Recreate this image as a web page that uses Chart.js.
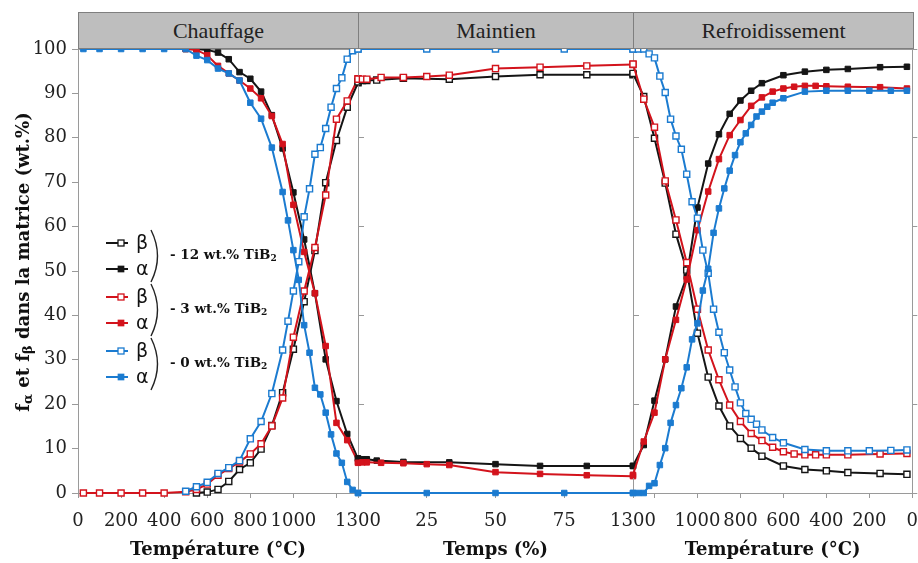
<!DOCTYPE html>
<html>
<head>
<meta charset="utf-8">
<script src="https://cdn.jsdelivr.net/npm/chart.js@4/dist/chart.umd.min.js"></script>
<style>
  body { margin: 0; background: #fff; }
  #wrap { position: relative; width: 918px; height: 563px; }
  #wrap canvas { position: absolute; left: 0; top: 0; }
  .band { position: absolute; top: 12px; height: 37px; background: #bebebe; border: 1px solid #7f7f7f;
          box-sizing: border-box; font: 22px "Liberation Serif", serif; color: #222; text-align: center; line-height: 35px; }
</style>
</head>
<body>
<div id="wrap">
  <canvas id="cA" width="918" height="563"></canvas>
  <canvas id="cB" width="918" height="563"></canvas>
  <canvas id="cC" width="918" height="563"></canvas>
</div>
<script>
// phase names and tick labels
const phaseNames = ['Chauffage', 'Maintien', 'Refroidissement'];
const heatTicks = [0, 200, 400, 600, 800, 1000, 1200, 1300];
const holdTicks = [0, 25, 50, 75, 100];
const coolTicks = [1300, 1200, 1000, 800, 600, 400, 200, 0];
const wtLabels = ['12', '3', '0'];

// --- chauffage (temperature, °C) ---
const heatT0a = [25, 100, 200, 300, 400, 500, 550, 600, 650, 700, 750, 800, 850, 900, 950, 975, 1000, 1025, 1050, 1075, 1100, 1125, 1150, 1175, 1200, 1225, 1250, 1275, 1300];
const heatA0 = [100, 100, 100, 100, 100, 100, 98.5, 97.5, 95.6, 94.5, 92.9, 87.9, 84.3, 77.8, 67.8, 61.4, 54.7, 48, 37.8, 31.6, 23.7, 22.2, 18.1, 13.2, 8.9, 6.8, 2.5, 0.7, 0];
const heatT0b = [500, 550, 600, 650, 700, 750, 800, 850, 900, 950, 975, 1000, 1025, 1050, 1075, 1100, 1125, 1150, 1175, 1200, 1225, 1250, 1275, 1300];
const heatB0 = [0.4, 1.4, 2.4, 4.4, 5.7, 7.3, 12.2, 16.1, 22.4, 32.2, 38.7, 45.5, 52.1, 62.2, 68.5, 76.3, 77.8, 82.1, 86.9, 91.1, 93.5, 97.7, 99.6, 100];

const heatT3a = [500, 550, 600, 650, 700, 750, 800, 850, 900, 950, 1000, 1050, 1100, 1150, 1200, 1250, 1300];
const heatA3 = [100, 99.8, 98.6, 96.2, 94.5, 92.9, 91.1, 88.9, 84.9, 78.6, 64.9, 54.3, 45, 33.1, 15.8, 11.9, 7.0];
const heatT3b = [25, 100, 200, 300, 400, 500, 550, 600, 650, 700, 750, 800, 850, 900, 950, 1000, 1050, 1100, 1150, 1200, 1250, 1300];
const heatB3 = [0, 0, 0, 0, 0, 0.3, 0.8, 2.0, 4.0, 5.5, 7.0, 8.8, 11.1, 15.1, 21.4, 35.1, 45.5, 55.3, 67.1, 84.2, 88.3, 93.3];

const heatT12a = [500, 550, 600, 650, 700, 750, 800, 850, 900, 950, 1000, 1050, 1100, 1150, 1200, 1250, 1300];
const heatA12 = [100, 100, 99.8, 99.2, 97.7, 94.8, 93.3, 90.4, 85.1, 77.6, 67.7, 57.1, 45, 30.1, 20.7, 13.3, 7.7];
const heatT12b = [550, 600, 650, 700, 750, 800, 850, 900, 950, 1000, 1050, 1100, 1150, 1200, 1250, 1300];
const heatB12 = [0, 0.2, 0.8, 2.6, 5.3, 6.8, 9.9, 15.2, 22.6, 32.4, 43.1, 54.6, 69.9, 79.4, 86.9, 92.4];

// --- maintien (temps, %) ---
const holdT0 = [0, 25, 50, 75, 100];
const holdA0 = [0, 0, 0, 0, 0];
const holdB0 = [100, 100, 100, 100, 100];
const holdT3 = [0, 1.6, 3.2, 8.4, 16.5, 25, 33.2, 50, 66.2, 83.2, 100];
const holdA3 = [6.8, 6.9, 6.9, 6.8, 6.7, 6.5, 6.3, 4.7, 4.3, 4.0, 3.8];
const holdB3 = [93.2, 93.2, 93.2, 93.6, 93.6, 93.8, 94.1, 95.6, 95.9, 96.2, 96.5];
const holdT12 = [0, 1.6, 3.2, 6.8, 16.5, 33.2, 50, 66.2, 83.2, 100];
const holdA12 = [7.8, 7.6, 7.6, 7.3, 7.0, 6.9, 6.5, 6.1, 6.1, 6.1];
const holdB12 = [92.6, 92.9, 92.9, 93.0, 93.4, 93.2, 93.8, 94.2, 94.2, 94.2];

// --- refroidissement (temperature, °C) ---
const coolT0a = [1300, 1275, 1250, 1225, 1200, 1175, 1150, 1125, 1100, 1075, 1050, 1025, 1000, 975, 950, 925, 900, 875, 850, 825, 800, 775, 750, 725, 700, 675, 650, 600, 500, 400, 300, 200, 100, 25];
const coolA0 = [0, 0, 0, 1.6, 2.2, 6.3, 10.1, 15.8, 19.8, 23.6, 28.3, 34.6, 38.2, 45.6, 50.5, 58.6, 64.1, 68.6, 72.6, 76.1, 79.0, 81.0, 82.9, 84.8, 85.9, 87.0, 87.9, 88.9, 90.4, 90.6, 90.6, 90.6, 90.6, 90.6];
const coolT0b = [1300, 1275, 1250, 1225, 1200, 1175, 1150, 1125, 1100, 1075, 1050, 1025, 1000, 975, 950, 925, 900, 875, 850, 825, 800, 775, 750, 725, 700, 650, 600, 500, 400, 300, 200, 100, 25];
const coolB0 = [100, 100, 100, 98.9, 98.0, 93.9, 90.2, 84.2, 80.4, 77.4, 71.8, 65.6, 61.9, 54.7, 49.5, 41.4, 36.2, 31.6, 27.7, 23.9, 20.3, 17.9, 16.6, 15.5, 14.2, 12.5, 11.3, 9.8, 9.5, 9.5, 9.5, 9.6, 9.7];

const coolT3 = [1300, 1250, 1200, 1150, 1100, 1050, 1000, 950, 900, 850, 800, 750, 700, 650, 600, 550, 500, 450, 400, 300, 150, 25];
const coolA3 = [4.1, 11.6, 18.1, 30.1, 39.0, 48.1, 59.2, 67.9, 75.2, 80.6, 84.0, 87.2, 89.1, 90.4, 91.1, 91.5, 91.7, 91.7, 91.6, 91.5, 91.4, 91.1];
const coolB3 = [96.6, 88.7, 82.4, 70.3, 61.5, 51.9, 41.4, 32.2, 25.5, 19.8, 16.1, 13.4, 11.8, 10.3, 9.3, 8.8, 8.6, 8.6, 8.6, 8.6, 8.8, 8.9];

const coolT12 = [1300, 1250, 1200, 1150, 1100, 1050, 1000, 950, 900, 850, 800, 750, 700, 600, 500, 400, 300, 150, 25];
const coolA12 = [6.1, 10.8, 20.8, 30.1, 42.0, 48.7, 64.3, 74.2, 80.8, 85.4, 88.4, 90.6, 92.3, 94.1, 94.9, 95.3, 95.5, 95.9, 96.0];
const coolB12 = [94.5, 89.3, 79.9, 69.8, 58.3, 50.2, 36.0, 26.1, 19.6, 15.1, 12.3, 10.1, 8.3, 6.1, 5.3, 5.0, 4.6, 4.4, 4.2];

const colK = '#151515', colR = '#d3131c', colB = '#1b7bd0';
const groupColors = [colK, colR, colB];

const W = 918;
const plotLeft = 78, cut1 = 358, cut2 = 633, plotRight = 913, plotTop = 49, xAxisH = 70;

// bands with phase names
const bandEdges = [plotLeft, cut1, cut2, plotRight];
phaseNames.forEach((name, i) => {
  const d = document.createElement('div');
  d.className = 'band';
  d.style.left = bandEdges[i] + 'px';
  d.style.width = (bandEdges[i + 1] - bandEdges[i] + 1) + 'px';
  d.textContent = name;
  document.getElementById('wrap').appendChild(d);
});

const pts = (xs, ys) => xs.map((x, i) => ({ x: x, y: ys[i] }));

function ds(xs, ys, color, open) {
  return {
    data: pts(xs, ys),
    borderColor: color,
    backgroundColor: color,
    borderWidth: 2,
    tension: 0,
    clip: false,
    pointStyle: 'rect',
    pointRadius: open ? 4.3 : 3.9,
    pointBorderWidth: open ? 1.4 : 1,
    pointBackgroundColor: open ? '#fff' : color,
    pointBorderColor: color
  };
}

const tickFont = { family: 'DejaVu Serif', size: 18 };
const titleFont = { family: 'DejaVu Serif', size: 18, weight: 'bold' };

const framePlugin = {
  id: 'frame',
  beforeDatasetsDraw(chart) {
    const { ctx, chartArea: a } = chart;
    ctx.save();
    ctx.strokeStyle = '#9a9a9a';
    ctx.lineWidth = 1;
    ctx.strokeRect(Math.round(a.left) + 0.5, Math.round(a.top) + 0.5, Math.round(a.right - a.left), Math.round(a.bottom - a.top));
    ctx.restore();
  }
};

function richText(ctx, parts, x, y, align) {
  let w = 0;
  parts.forEach(p => { ctx.font = p[1]; w += ctx.measureText(p[0]).width; });
  let cx = align === 'center' ? x - w / 2 : x;
  parts.forEach(p => {
    ctx.font = p[1];
    ctx.fillText(p[0], cx, y + (p[2] || 0));
    cx += ctx.measureText(p[0]).width;
  });
}

const decorPlugin = {
  id: 'decor',
  afterDatasetsDraw(chart) {
    const ctx = chart.ctx;
    const big = 'bold 18px "DejaVu Serif"', sub = 'bold 13px "DejaVu Serif"';
    // y axis title
    ctx.save();
    ctx.fillStyle = '#111';
    ctx.textBaseline = 'middle';
    ctx.translate(24, 262);
    ctx.rotate(-Math.PI / 2);
    richText(ctx, [['f', big], ['α', sub, 5], [' et f', big], ['β', sub, 5], [' dans la matrice (wt.%)', big]], 0, 0, 'center');
    ctx.restore();

    // legend
    const groupTop = [243, 297, 351];
    groupColors.forEach((c, g) => {
      const y0 = groupTop[g];
      [0, 1].forEach(r => {
        const y = y0 + r * 26;
        ctx.save();
        ctx.strokeStyle = c;
        ctx.lineWidth = 2;
        ctx.beginPath(); ctx.moveTo(106, y); ctx.lineTo(128, y); ctx.stroke();
        ctx.fillStyle = r === 0 ? '#fff' : c;
        ctx.lineWidth = 1.3;
        const s = r === 0 ? 6 : 5.4;
        ctx.fillRect(121 - s / 2, y - s / 2, s, s);
        ctx.strokeRect(121 - s / 2, y - s / 2, s, s);
        ctx.fillStyle = '#111';
        ctx.font = '19px "DejaVu Sans"';
        ctx.textBaseline = 'middle';
        ctx.fillText(r === 0 ? 'β' : 'α', 136, y + 1);
        ctx.restore();
      });
      // bracket
      ctx.save();
      ctx.strokeStyle = '#222';
      ctx.lineWidth = 1.4;
      ctx.beginPath();
      ctx.moveTo(151, y0 - 13);
      ctx.quadraticCurveTo(164, y0 + 13, 151, y0 + 39);
      ctx.stroke();
      ctx.fillStyle = '#111';
      ctx.textBaseline = 'middle';
      richText(ctx, [['- ' + wtLabels[g] + ' wt.% TiB', 'bold 13.5px "DejaVu Serif"'], ['2', 'bold 9px "DejaVu Serif"', 4]], 170, y0 + 12, 'left');
      ctx.restore();
    });
  }
};

function xScale(min, max, ticks, hidden, title, reverse) {
  return {
    type: 'linear', min: min, max: max, reverse: !!reverse,
    afterBuildTicks: s => { s.ticks = ticks.map(v => ({ value: v })); },
    afterFit: s => { s.height = xAxisH; s.paddingLeft = 0; s.paddingRight = 0; },
    ticks: { font: tickFont, color: '#222', padding: 13, maxRotation: 0, autoSkip: false,
             callback: v => hidden.includes(v) ? '' : String(v) },
    grid: { drawOnChartArea: false, tickLength: 5, color: '#999' },
    border: { display: false },
    title: { display: true, text: title, font: titleFont, color: '#111', padding: { top: 0, bottom: 2 } }
  };
}

function sideY(pos, width, tickLen, labels) {
  return {
    type: 'linear', position: pos, min: 0, max: 100,
    afterFit: s => { s.width = width; },
    ticks: { display: labels, stepSize: labels ? 10 : 20, font: tickFont, color: '#222', padding: 5 },
    grid: { drawOnChartArea: false, tickLength: tickLen, color: '#999' },
    border: { display: false }
  };
}

function baseOptions(padding, scales) {
  return {
    responsive: false,
    animation: false,
    devicePixelRatio: 1,
    layout: { padding: padding },
    plugins: { legend: { display: false }, tooltip: { enabled: false } },
    scales: scales
  };
}

new Chart(document.getElementById('cA'), {
  type: 'line',
  data: { datasets: [
    ds(heatT0a, heatA0, colB, false), ds(heatT0b, heatB0, colB, true),
    ds(heatT3a, heatA3, colR, false), ds(heatT3b, heatB3, colR, true),
    ds(heatT12a, heatA12, colK, false), ds(heatT12b, heatB12, colK, true)
  ] },
  options: baseOptions({ top: plotTop, left: 0, right: W - cut1, bottom: 0 }, {
    x: xScale(0, 1300, heatTicks, [1200], 'Température (°C)'),
    y: sideY('left', plotLeft, 6, true)
  }),
  plugins: [framePlugin, decorPlugin]
});

new Chart(document.getElementById('cB'), {
  type: 'line',
  data: { datasets: [
    ds(holdT0, holdA0, colB, false), ds(holdT0, holdB0, colB, true),
    ds(holdT3, holdA3, colR, false), ds(holdT3, holdB3, colR, true),
    ds(holdT12, holdA12, colK, false), ds(holdT12, holdB12, colK, true)
  ] },
  options: baseOptions({ top: plotTop, left: cut1, right: W - cut2, bottom: 0 }, {
    x: xScale(0, 100, holdTicks, [0, 100], 'Temps (%)'),
    y: sideY('left', 0, -6, false)
  }),
  plugins: [framePlugin]
});

new Chart(document.getElementById('cC'), {
  type: 'line',
  data: { datasets: [
    ds(coolT0a, coolA0, colB, false), ds(coolT0b, coolB0, colB, true),
    ds(coolT3, coolA3, colR, false), ds(coolT3, coolB3, colR, true),
    ds(coolT12, coolA12, colK, false), ds(coolT12, coolB12, colK, true)
  ] },
  options: baseOptions({ top: plotTop, left: cut2, right: 0, bottom: 0 }, {
    x: xScale(0, 1300, coolTicks, [1200], 'Température (°C)', true),
    y: sideY('right', W - plotRight, 5, false),
    yl: sideY('left', 0, -6, false)
  }),
  plugins: [framePlugin]
});
</script>
</body>
</html>
